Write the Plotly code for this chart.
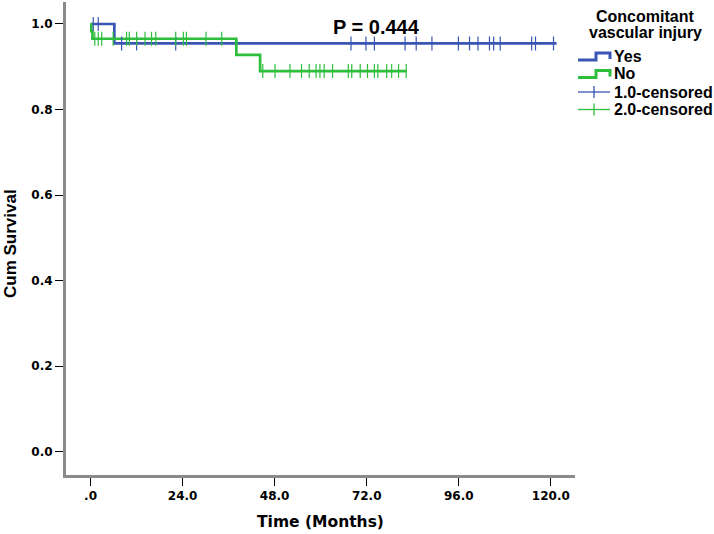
import numpy as np
import plotly.graph_objects as go

# ---- data ----
blue_step_t = [0.0, 6.2]
blue_step_s = [1.0, 0.9545]
blue_end_t = 121.5
blue_cens_t = [0.7, 2.0, 8.1, 12.0, 22.2, 67.9, 71.8, 74.0, 82.0, 84.9, 89.0,
               95.9, 98.8, 101.0, 104.0, 105.1, 106.8, 115.0, 116.0, 120.7]

green_step_t = [0.0, 0.2, 0.5, 38.0, 44.2]
green_step_s = [1.0, 0.983, 0.9655, 0.928, 0.890]
green_end_t = 82.3
green_cens_t = [1.1, 2.0, 2.9, 5.9, 9.4, 10.1, 12.0, 14.2, 15.9, 17.0, 22.2, 24.2,
                25.0, 30.1, 34.2, 44.9, 48.1, 52.0, 55.0, 57.0, 58.8, 59.8, 60.9,
                63.1, 67.2, 68.1, 70.3, 72.2, 74.0, 74.9, 77.2, 78.5, 80.3, 82.3]

x_tickvals = [0, 24, 48, 72, 96, 120]
x_ticktext = [".0", "24.0", "48.0", "72.0", "96.0", "120.0"]
y_tickvals = [0.0, 0.2, 0.4, 0.6, 0.8, 1.0]
p_text = "P = 0.444"
legend_title = ["Concomitant", "vascular injury"]
legend_labels = ["Yes", "No", "1.0-censored", "2.0-censored"]

BLUE = "#3A55B4"
GREEN = "#2DBE3C"

def step_xy(ts, ss, end):
    return list(ts) + [end], list(ss) + [ss[-1]]

def cens_y(ts, ss, ct):
    idx = np.searchsorted(np.array(ts), np.array(ct), side="right") - 1
    return list(np.array(ss)[idx])

fig = go.Figure()
bx, by = step_xy(blue_step_t, blue_step_s, blue_end_t)
gx, gy = step_xy(green_step_t, green_step_s, green_end_t)
fig.add_trace(go.Scatter(x=bx, y=by, mode="lines", line=dict(color=BLUE, width=2.7, shape="hv"), showlegend=False))
fig.add_trace(go.Scatter(x=gx, y=gy, mode="lines", line=dict(color=GREEN, width=2.7, shape="hv"), showlegend=False))
fig.add_trace(go.Scatter(x=blue_cens_t, y=cens_y(blue_step_t, blue_step_s, blue_cens_t), mode="markers",
                         marker=dict(symbol="line-ns", size=10, line=dict(color=BLUE, width=1.2)), showlegend=False))
fig.add_trace(go.Scatter(x=green_cens_t, y=cens_y(green_step_t, green_step_s, green_cens_t), mode="markers",
                         marker=dict(symbol="line-ns", size=10, line=dict(color=GREEN, width=1.2)), showlegend=False))

# plot area in pixels
L, R, T, B = 66, 575, 2, 475
W, H = 714, 534

def px(xp):
    return (xp - L) / (R - L)

def py(yp):
    return (B - yp) / (B - T)

ann = []
ann.append(dict(x=px(376.7), y=py(26.5), xref="paper", yref="paper", text=p_text, showarrow=False,
                font=dict(family="Liberation Sans", size=20, color="black", weight="bold"),
                xanchor="center", yanchor="middle"))
ann.append(dict(x=px(10), y=py(244), xref="paper", yref="paper", text="Cum Survival", showarrow=False,
                textangle=-90, font=dict(family="Liberation Sans", size=17, color="black", weight="bold"),
                xanchor="center", yanchor="middle"))
for i, t in enumerate(legend_title):
    ann.append(dict(x=px(645), y=py([16.7, 32.3][i]), xref="paper", yref="paper", text=t, showarrow=False,
                    font=dict(family="Liberation Sans", size=16, color="black", weight="bold"),
                    xanchor="center", yanchor="middle"))
ys = [56.5, 74.0, 92.0, 109.5]
for lab, yy in zip(legend_labels, ys):
    ann.append(dict(x=px(612), y=py(yy), xref="paper", yref="paper", text=lab, showarrow=False,
                    font=dict(family="Liberation Sans", size=16, color="black", weight="bold"),
                    xanchor="left", yanchor="middle"))

shapes = []
for col, yy in zip([BLUE, GREEN], ys[:2]):
    pts = [(578, yy + 3.5), (596, yy + 3.5), (596, yy - 3.5), (610, yy - 3.5), (610, yy + 2.5)]
    path = "M " + " L ".join(f"{px(a):.5f},{py(b):.5f}" for a, b in pts)
    shapes.append(dict(type="path", path=path, xref="paper", yref="paper", line=dict(color=col, width=3)))
for col, yy in zip([BLUE, GREEN], ys[2:]):
    shapes.append(dict(type="line", x0=px(578), x1=px(610), y0=py(yy), y1=py(yy), xref="paper", yref="paper",
                       line=dict(color=col, width=1.3)))
    shapes.append(dict(type="line", x0=px(594), x1=px(594), y0=py(yy - 6), y1=py(yy + 6), xref="paper", yref="paper",
                       line=dict(color=col, width=1.3)))

tickfont = dict(family="DejaVu Sans", size=12, color="black", weight="bold")
fig.update_layout(
    width=W, height=H, margin=dict(l=L, r=W - R, t=T, b=H - B),
    paper_bgcolor="white", plot_bgcolor="white",
    annotations=ann, shapes=shapes, showlegend=False,
    xaxis=dict(range=[-6.4, 126.3], tickvals=x_tickvals, ticktext=x_ticktext, showgrid=False, zeroline=False,
               showline=True, linecolor="#8a8a8a", linewidth=3, ticks="outside", ticklen=8, tickwidth=1,
               tickcolor="black", tickfont=tickfont,
               title=dict(text="Time (Months)", font=dict(family="DejaVu Sans", size=15.5, color="black", weight="bold"),
                          standoff=14)),
    yaxis=dict(range=[-0.0545, 1.0514], tickvals=y_tickvals, tickformat=".1f", showgrid=False, zeroline=False,
               showline=True, linecolor="#8a8a8a", linewidth=3, ticks="outside", ticklen=8, tickwidth=1,
               tickcolor="black", tickfont=tickfont),
)
fig.write_html("out.html", config={"displayModeBar": False},
               post_script="document.body.style.margin='0';document.body.style.padding='0';")
